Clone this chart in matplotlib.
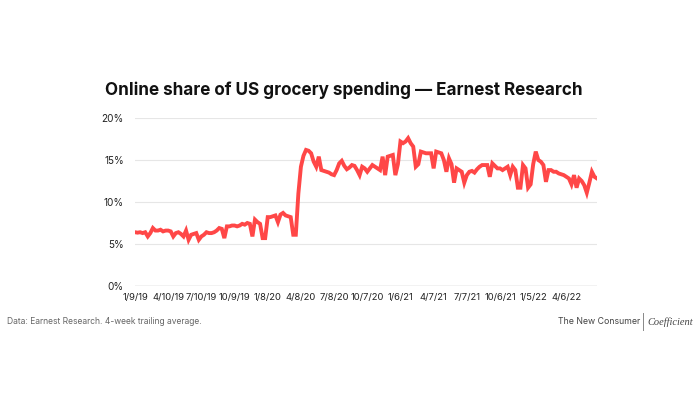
import numpy as np
import pandas as pd
import matplotlib
matplotlib.use("Agg")
import matplotlib.pyplot as plt

# weekly online share (%) starting 1/9/19
share = [
    6.4, 6.35, 6.4, 6.3, 6.4, 5.9, 6.3, 6.9, 6.6, 6.6, 6.7, 6.5, 6.6,
    6.6, 6.5, 5.9, 6.3, 6.4, 6.2, 5.9, 6.6, 5.5, 6.1, 6.2, 6.3, 5.5,
    5.9, 6.1, 6.4, 6.3, 6.3, 6.4, 6.6, 6.9, 6.8, 5.7, 7.1, 7.1, 7.2,
    7.2, 7.1, 7.2, 7.4, 7.3, 7.5, 7.4, 5.9, 7.9, 7.6, 7.4, 5.7, 5.7,
    8.2, 8.2, 8.3, 8.4, 7.6, 8.5, 8.7, 8.4, 8.3, 8.2, 6.1, 6.1, 11.0,
    14.2, 15.5, 16.2, 16.1, 15.8, 14.8, 14.2, 15.4, 13.8, 13.7, 13.6, 13.5, 13.3,
    13.2, 13.8, 14.6, 14.9, 14.3, 13.9, 14.1, 14.4, 14.3, 13.8, 13.2, 14.2, 14.0,
    13.6, 14.0, 14.4, 14.2, 14.0, 13.8, 15.4, 13.2, 15.4, 15.5, 15.6, 13.2, 14.5,
    17.2, 17.0, 17.2, 17.6, 17.0, 16.6, 14.2, 14.5, 16.0, 15.9, 15.8, 15.8, 15.8,
    14.0, 16.0, 15.9, 15.8, 15.0, 13.6, 15.2, 14.5, 12.3, 14.0, 13.8, 13.6, 12.3,
    13.2, 13.6, 13.7, 13.5, 13.9, 14.2, 14.4, 14.4, 14.4, 13.0, 14.6, 14.3, 14.0,
    14.0, 13.8, 14.0, 14.2, 13.2, 14.2, 13.8, 11.7, 11.7, 14.4, 14.0, 11.7, 12.1,
    14.5, 16.0, 15.0, 14.8, 14.4, 12.4, 13.8, 13.8, 13.6, 13.6, 13.4, 13.3, 13.2,
    13.0, 12.8, 12.1, 13.2, 11.7, 12.8, 12.5, 12.0, 11.1, 12.3, 13.6, 13.0, 12.8,
]
weeks = pd.date_range("2019-01-09", periods=len(share), freq="7D")

tick_labels = ["1/9/19", "4/10/19", "7/10/19", "10/9/19", "1/8/20", "4/8/20",
               "7/8/20", "10/7/20", "1/6/21", "4/7/21", "7/7/21", "10/6/21",
               "1/5/22", "4/6/22"]
y_ticks = [0, 5, 10, 15, 20]

plt.rcParams['font.family'] = ['Inter', 'DejaVu Sans']

fig = plt.figure(figsize=(7, 4), dpi=100)
ax = fig.add_axes([135 / 700, 1 - 286 / 400, (597 - 135) / 700, 168 / 400])

ax.plot(weeks, share, color='#FF4747', lw=2.8, solid_joinstyle='miter')

ax.set_xlim(weeks[0], weeks[-1])
ax.set_ylim(0, 20)
ax.set_yticks(y_ticks)
ax.set_yticklabels(["%d%%" % v for v in y_ticks])
ax.set_xticks(weeks[::13][:len(tick_labels)])
ax.set_xticklabels(tick_labels)
ax.tick_params(length=0, labelsize=6.8, colors='#222222')
ax.tick_params(axis='y', pad=8, labelsize=7.2)
ax.tick_params(axis='x', pad=5)

for v in y_ticks[1:]:
    ax.axhline(v, color='#E6E6E6', lw=0.8, zorder=0)
ax.axhline(0, color='#9A9A9A', lw=0.9, zorder=0)
for s in ax.spines.values():
    s.set_visible(False)

fig.text(344 / 700, 1 - 90 / 400, "Online share of US grocery spending \u2014 Earnest Research",
         ha='center', va='center', fontsize=12.3, fontweight='bold', color='#111111')

fig.text(7 / 700, 1 - 322 / 400, "Data: Earnest Research. 4-week trailing average.",
         ha='left', va='center', fontsize=6.1, color='#666666')
fig.text(640 / 700, 1 - 322 / 400, "The New Consumer", ha='right', va='center',
         fontsize=6.3, color='#444444')
fig.add_artist(plt.Line2D([643 / 700, 643 / 700], [1 - 330 / 400, 1 - 313 / 400],
                          color='#888888', lw=0.7))
fig.text(647 / 700, 1 - 322 / 400, "Coefficient", ha='left', va='center',
         fontsize=7.5, style='italic', family='Liberation Serif', color='#444444')

fig.savefig("out.png", dpi=100)
